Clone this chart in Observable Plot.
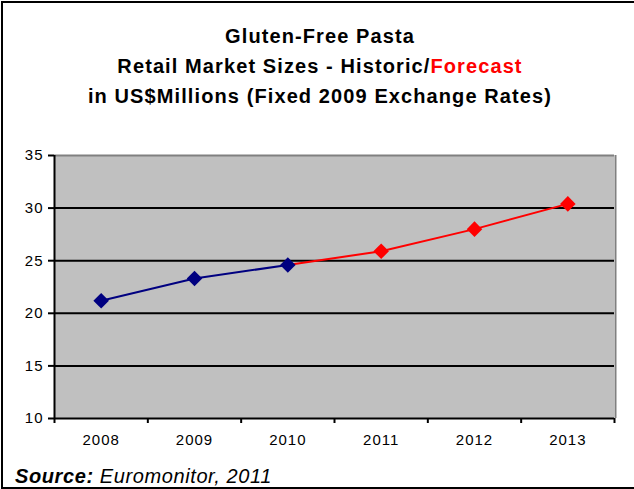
<!DOCTYPE html>
<html>
<head>
<meta charset="utf-8">
<script src="https://cdn.jsdelivr.net/npm/d3@7"></script>
<script src="https://cdn.jsdelivr.net/npm/@observablehq/plot@0.6"></script>
<style>
  html, body { margin: 0; padding: 0; background: #fff; }
  #wrap { position: relative; width: 634px; height: 489px; overflow: hidden; font-family: "Liberation Sans", Arial, sans-serif; }
  #frame { position: absolute; left: 1px; top: 1px; width: 700px; height: 488px; border: 2px solid #000; box-sizing: border-box; pointer-events: none; }
  #title { position: absolute; left: 0; top: 21px; width: 640px; text-align: center; font-weight: bold; font-size: 20px; letter-spacing: 1.1px; line-height: 30px; color: #000; white-space: nowrap; }
  #title .fc { color: #ff0000; }
  #source { position: absolute; left: 15px; top: 465px; font-size: 20px; line-height: 23px; letter-spacing: 0.6px; font-style: italic; color: #000; white-space: nowrap; }
  #chart { position: absolute; left: 0; top: 0; }
  #chart svg text { letter-spacing: 1px; }
</style>
</head>
<body>
<div id="wrap">
  <div id="chart"></div>
  <div id="title">Gluten-Free Pasta<br>Retail Market Sizes - Historic/<span class="fc">Forecast</span><br>in US$Millions (Fixed 2009 Exchange Rates)</div>
  <div id="source"><b>Source:</b> Euromonitor, 2011</div>
  <div id="frame"></div>
</div>
<script>
const years = [2008, 2009, 2010, 2011, 2012, 2013];
const values = [21.2, 23.3, 24.6, 25.9, 28.0, 30.4];
const historicYears = [2008, 2009, 2010];
const forecastYears = [2010, 2011, 2012, 2013];
const yTicks = [10, 15, 20, 25, 30, 35];
const xBoundaries = [2007.5, 2008.5, 2009.5, 2010.5, 2011.5, 2012.5, 2013.5];

const data = years.map((y, i) => ({year: y, value: values[i]}));
const historic = data.filter(d => historicYears.includes(d.year));
const forecast = data.filter(d => forecastYears.includes(d.year));

const chart = Plot.plot({
  width: 634,
  height: 489,
  marginLeft: 54,
  marginRight: 20,
  marginTop: 155,
  marginBottom: 71,
  style: {fontFamily: "Liberation Sans, Arial, sans-serif", fontSize: "15px", color: "#000", background: "transparent"},
  x: {type: "linear", domain: [2007.5, 2013.5]},
  y: {domain: [10, 35]},
  marks: [
    Plot.rect([{}], {x1: 2007.5, x2: 2013.5, y1: 10, y2: 35, fill: "#c0c0c0"}),
    Plot.ruleY(yTicks.filter(t => t > 10 && t < 35), {stroke: "#000", strokeWidth: 2}),
    Plot.ruleY([35], {stroke: "#808080", strokeWidth: 2}),
    Plot.ruleX([2013.5], {y1: 10, y2: 35, stroke: "#808080", strokeWidth: 2, dx: 1}),
    Plot.axisY({ticks: yTicks, tickSize: 6, tickPadding: 5, tickFormat: d => String(d), stroke: "#000", strokeWidth: 2, label: null, fontSize: 15}),
    Plot.axisX({ticks: xBoundaries, tickSize: 5, tickFormat: () => "", stroke: "#000", strokeWidth: 2, label: null}),
    Plot.axisX({ticks: years, tickSize: 0, tickPadding: 16, tickFormat: d => String(d), label: null, fontSize: 15}),
    Plot.ruleX([2007.5], {y1: 10, y2: 35, stroke: "#000", strokeWidth: 2}),
    Plot.ruleY([10], {x1: 2007.5, x2: 2013.5, stroke: "#000", strokeWidth: 2}),
    Plot.line(forecast, {x: "year", y: "value", stroke: "#ff0000", strokeWidth: 2}),
    Plot.line(historic, {x: "year", y: "value", stroke: "#000080", strokeWidth: 2}),
    Plot.dot(forecast.filter(d => d.year !== 2010), {x: "year", y: "value", symbol: "diamond2", r: 7, fill: "#ff0000", stroke: "none"}),
    Plot.dot(historic, {x: "year", y: "value", symbol: "diamond2", r: 7, fill: "#000080", stroke: "none"})
  ]
});
document.getElementById("chart").appendChild(chart);
</script>
</body>
</html>
